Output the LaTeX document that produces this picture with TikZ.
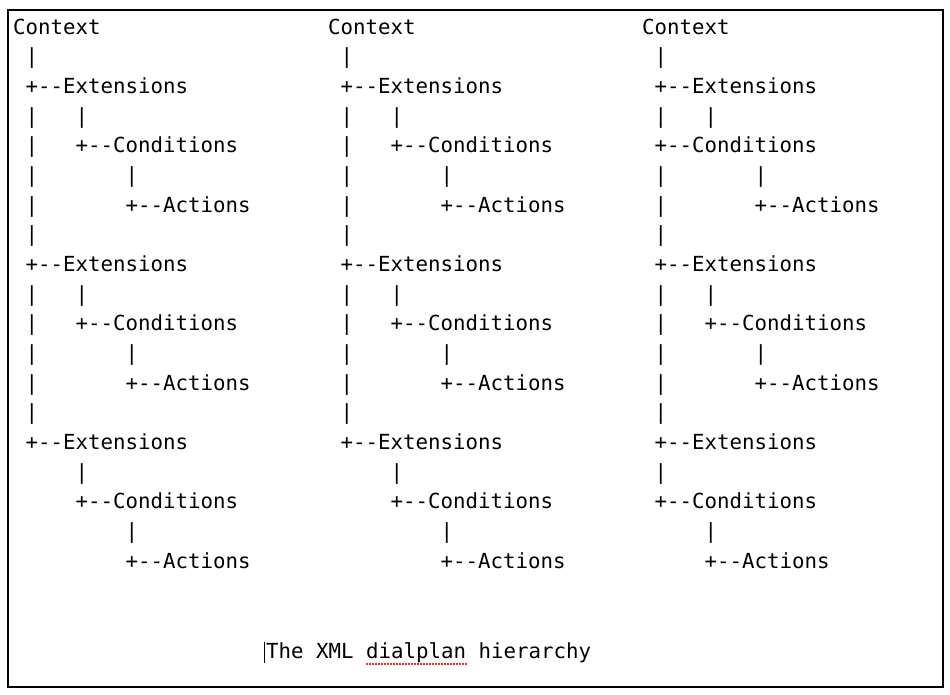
\documentclass[tikz,border=0pt]{standalone}
\usepackage{fontspec}
\setmonofont{DejaVu Sans Mono}
\newlength{\colstep}
\newlength{\rowstep}

\begin{document}
\begin{tikzpicture}[
    chr/.style = {anchor = base west, inner sep = 0pt,
      font = \ttfamily\fontsize{20.76pt}{25pt}\selectfont}
  ]
  \setlength{\colstep}{12.5pt}
  \setlength{\rowstep}{29.67pt}

  \useasboundingbox[fill = white] (0pt, 0pt) rectangle (950pt, -694pt);
  \draw[line width = 2pt] (8pt, -10pt) rectangle (943pt, -687pt);

  % the first two trees are the same
  \foreach \tree/\xo in {A/13pt, B/328pt} {
    \foreach \row/\col/\txt in {0/0/Context, 1/1/|, 2/1/+--Extensions,
        3/1/|, 3/5/|, 4/1/|, 4/5/+--Conditions, 5/1/|, 5/9/|, 6/1/|, 6/9/+--Actions,
        7/1/|, 8/1/+--Extensions,
        9/1/|, 9/5/|, 10/1/|, 10/5/+--Conditions, 11/1/|, 11/9/|, 12/1/|, 12/9/+--Actions,
        13/1/|, 14/1/+--Extensions,
        15/5/|, 16/5/+--Conditions, 17/9/|, 18/9/+--Actions} {
      \node[chr] (\tree-\row-\col)
        at ({\xo + \col * \colstep}, {-34pt - \row * \rowstep}) {\txt};
    }
  }

  % the third one
  \foreach \row/\col/\txt in {0/0/Context, 1/1/|, 2/1/+--Extensions,
      3/1/|, 3/5/|, 4/1/+--Conditions, 5/1/|, 5/9/|, 6/1/|, 6/9/+--Actions,
      7/1/|, 8/1/+--Extensions,
      9/1/|, 9/5/|, 10/1/|, 10/5/+--Conditions, 11/1/|, 11/9/|, 12/1/|, 12/9/+--Actions,
      13/1/|, 14/1/+--Extensions,
      15/1/|, 16/1/+--Conditions, 17/5/|, 18/5/+--Actions} {
    \node[chr] (C-\row-\col)
      at ({642pt + \col * \colstep}, {-34pt - \row * \rowstep}) {\txt};
  }

  \node[chr] (caption) at (266pt, -658pt) {The XML dialplan hierarchy};
  \draw[line width = 1.6pt]
    ([xshift = -1.5pt] caption.south west) -- ([xshift = -1.5pt] caption.north west);
  \draw[red!85, line width = 1.6pt, dash pattern = on 1.6pt off 1.4pt]
    (366pt, -664pt) -- (467pt, -664pt);
\end{tikzpicture}
\end{document}
